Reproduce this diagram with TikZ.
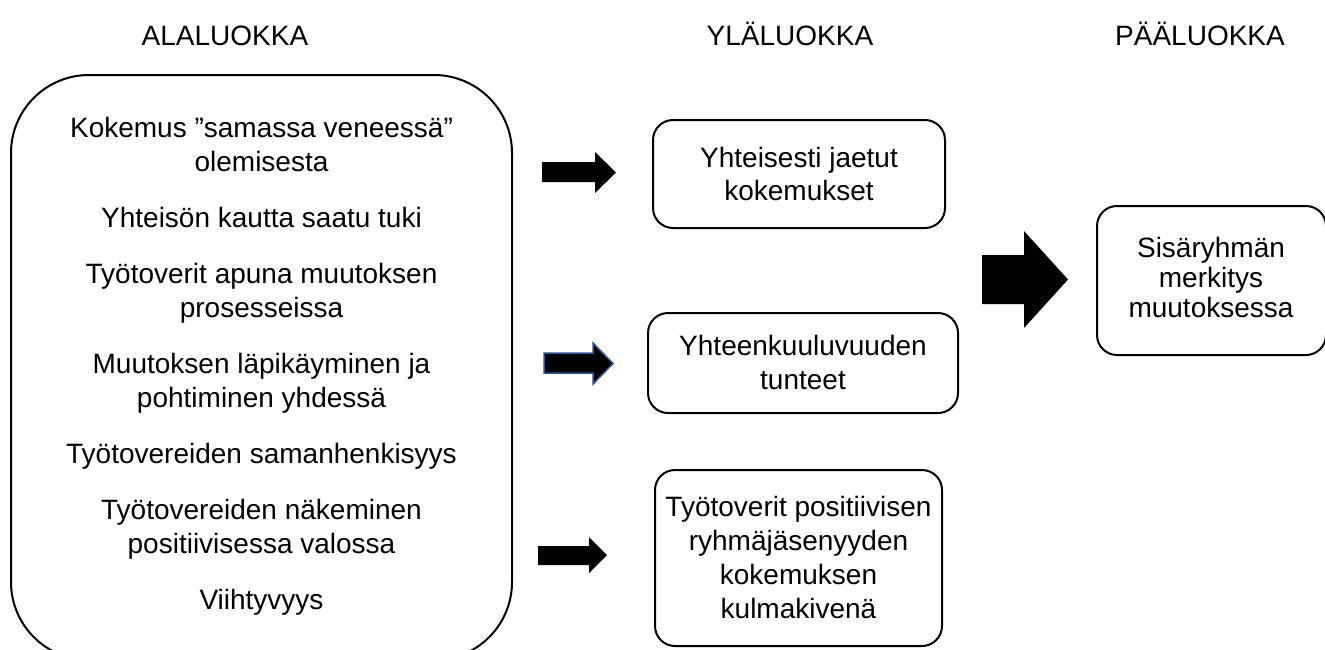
\documentclass[tikz,border=0pt]{standalone}
\usepackage{fontspec}
\setmainfont{Liberation Sans}
\definecolor{arrowedge}{HTML}{2F528F}
\begin{document}
\begin{tikzpicture}[x=1pt,y=-1pt,
  txt/.style={anchor=base,inner sep=0pt,font=\fontsize{28}{34}\selectfont},
  midbox/.style={draw,line width=2pt,rounded corners=20pt,minimum width=#1},
  blockarrow/.style={fill=black}]
\useasboundingbox (0,0) rectangle (1325,649);
\clip (0,0) rectangle (1325,649);
% headers
\node[txt] (h1) at (225,45) {ALALUOKKA};
\node[txt] (h2) at (790,45) {YLÄLUOKKA};
\node[txt] (h3) at (1200,45) {PÄÄLUOKKA};
% big box
\draw[line width=2pt,rounded corners=78pt] (11,75) rectangle (512,660);
\node[txt] (l1) at (261.5,137) {Kokemus ”samassa veneessä”};
\node[txt] (l2) at (261.5,171) {olemisesta};
\node[txt] (l3) at (261.5,227) {Yhteisön kautta saatu tuki};
\node[txt] (l4) at (261.5,283) {Työtoverit apuna muutoksen};
\node[txt] (l5) at (261.5,317) {prosesseissa};
\node[txt] (l6) at (261.5,373) {Muutoksen läpikäyminen ja};
\node[txt] (l7) at (261.5,407) {pohtiminen yhdessä};
\node[txt] (l8) at (261.5,463) {Työtovereiden samanhenkisyys};
\node[txt] (l9) at (261.5,519) {Työtovereiden näkeminen};
\node[txt] (l10) at (261.5,553) {positiivisessa valossa};
\node[txt] (l11) at (261.5,609) {Viihtyvyys};
% middle boxes
\node[midbox=292pt,minimum height=108pt] (b1) at (799,174) {};
\node[txt] (b1a) at (799,167) {Yhteisesti jaetut};
\node[txt] (b1b) at (799,200) {kokemukset};
\node[midbox=310pt,minimum height=100pt] (b2) at (803,363) {};
\node[txt] (b2a) at (803,355) {Yhteenkuuluvuuden};
\node[txt] (b2b) at (803,389) {tunteet};
\node[midbox=287pt,minimum height=176pt] (b3) at (798.5,558) {};
\node[txt] (b3a) at (798.5,516.5) {Työtoverit positiivisen};
\node[txt] (b3b) at (798.5,550.5) {ryhmäjäsenyyden};
\node[txt] (b3c) at (798.5,584.5) {kokemuksen};
\node[txt] (b3d) at (798.5,618.5) {kulmakivenä};
% right box
\node[midbox=229pt,minimum height=149pt] (b4) at (1211.5,280.5) {};
\node[txt] (b4a) at (1211,257) {Sisäryhmän};
\node[txt] (b4b) at (1211,287) {merkitys};
\node[txt] (b4c) at (1211,317) {muutoksessa};
% block arrows
\fill[blockarrow] (542,162) -- (595,162) -- (595,152) -- (616,172.5) -- (595,193) -- (595,182) -- (542,182) -- cycle;
\filldraw[blockarrow,draw=arrowedge,line width=1.5pt] (544,353) -- (593,353) -- (593,343) -- (613,363.5) -- (593,384) -- (593,373) -- (544,373) -- cycle;
\fill[blockarrow] (538,546) -- (589,546) -- (589,537) -- (607,555) -- (589,573) -- (589,565) -- (538,565) -- cycle;
\fill[blockarrow] (982,255) -- (1024,255) -- (1024,231) -- (1068,279.5) -- (1024,328) -- (1024,304) -- (982,304) -- cycle;
\end{tikzpicture}
\end{document}
